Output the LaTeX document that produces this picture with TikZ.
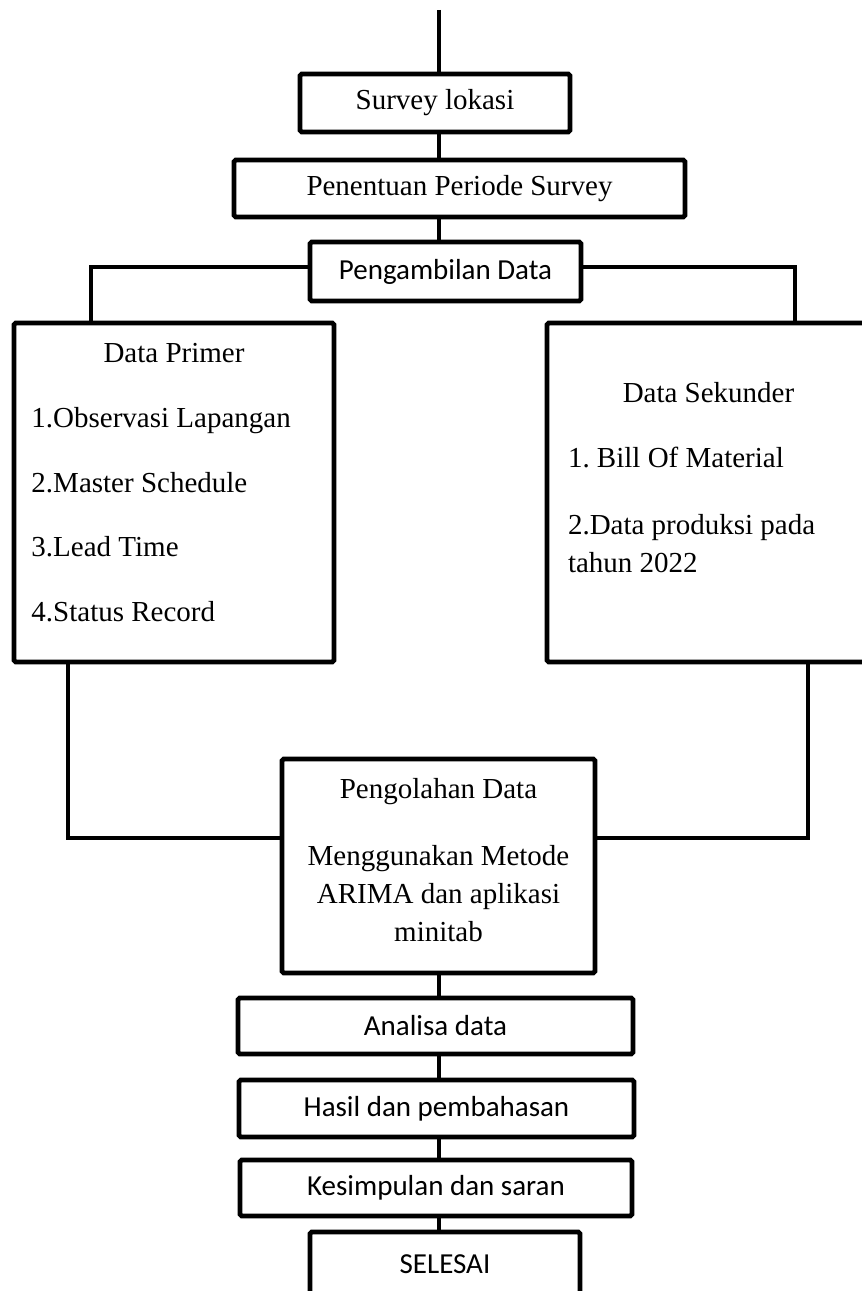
\documentclass[tikz,border=0pt]{standalone}
\usepackage{fontspec}
\setmainfont{Liberation Serif}
\newfontfamily\calibri{Carlito}
\usetikzlibrary{calc}

\begin{document}
\begin{tikzpicture}[
    every node/.style={font=\frenchspacing\fontsize{16.5}{21.5}\selectfont},
    box/.style={
        rectangle,
        draw=black,
        line width=2.8pt,
        rounded corners=1pt,
        fill=white,
        inner sep=0pt,
        align=center
    },
    sansbox/.style={box, font=\calibri\fontsize{16.5}{21.5}\selectfont},
    link/.style={line width=2.8pt}
]

\useasboundingbox (0, 0) rectangle (17.22, 25.82);

\coordinate (top) at (8.78, 25.62);

\node[box, minimum width=5.40cm, minimum height=1.16cm] (survey) at (8.70, 23.76) {Survey lokasi};
\node[box, minimum width=9.02cm, minimum height=1.14cm] (penentuan) at (9.19, 22.05) {Penentuan Periode Survey};
\node[sansbox, minimum width=5.42cm, minimum height=1.18cm] (pengambilan) at (8.91, 20.39) {Pengambilan Data};

\node[box, minimum width=6.40cm, minimum height=6.78cm, text width=5.70cm, align=flush left] (primer) at (3.48, 15.97)
    {\makebox[5.70cm][c]{Data Primer}\\[0.54cm]
     1.Observasi Lapangan\\[0.54cm]
     2.Master Schedule\\[0.54cm]
     3.Lead Time\\[0.54cm]
     4.Status Record\\[-0.36cm]\mbox{}};
\node[box, minimum width=6.46cm, minimum height=6.78cm, text width=5.62cm, align=flush left] (sekunder) at (14.17, 15.97)
    {\makebox[5.62cm][c]{Data Sekunder}\\[0.54cm]
     1. Bill Of Material\\[0.58cm]
     2.Data produksi pada\\
     tahun 2022\\[-0.16cm]\mbox{}};

\node[box, minimum width=6.26cm, minimum height=4.28cm] (pengolahan) at (8.77, 8.50)
    {Pengolahan Data\\[0.58cm]
     Menggunakan Metode\\
     ARIMA dan aplikasi\\
     minitab\\[-0.52cm]\mbox{}};

\node[sansbox, minimum width=7.90cm, minimum height=1.12cm] (analisa) at (8.71, 5.30) {Analisa data};
\node[sansbox, minimum width=7.90cm, minimum height=1.14cm] (hasil) at (8.73, 3.65) {Hasil dan pembahasan};
\node[sansbox, minimum width=7.84cm, minimum height=1.12cm] (kesimpulan) at (8.72, 2.06) {Kesimpulan dan saran};
\node[sansbox, minimum width=5.40cm, minimum height=1.28cm] (selesai) at (8.90, 0.54) {SELESAI};

\draw[link] (top) -- (top |- survey.north);
\draw[link] (top |- survey.south) -- (top |- penentuan.north);
\draw[link] (top |- penentuan.south) -- (top |- pengambilan.north);
\draw[link] ([yshift=0.09cm]pengambilan.west) -| ([xshift=-1.66cm]primer.north);
\draw[link] ([yshift=0.09cm]pengambilan.east) -| ([xshift=1.73cm]sekunder.north);
\draw[link] ([xshift=-2.12cm]primer.south) |- ([yshift=0.56cm]pengolahan.west);
\draw[link] ([xshift=1.99cm]sekunder.south) |- ([yshift=0.56cm]pengolahan.east);
\draw[link] (top |- pengolahan.south) -- (top |- analisa.north);
\draw[link] (top |- analisa.south) -- (top |- hasil.north);
\draw[link] (top |- hasil.south) -- (top |- kesimpulan.north);
\draw[link] (top |- kesimpulan.south) -- (top |- selesai.north);

\end{tikzpicture}
\end{document}
